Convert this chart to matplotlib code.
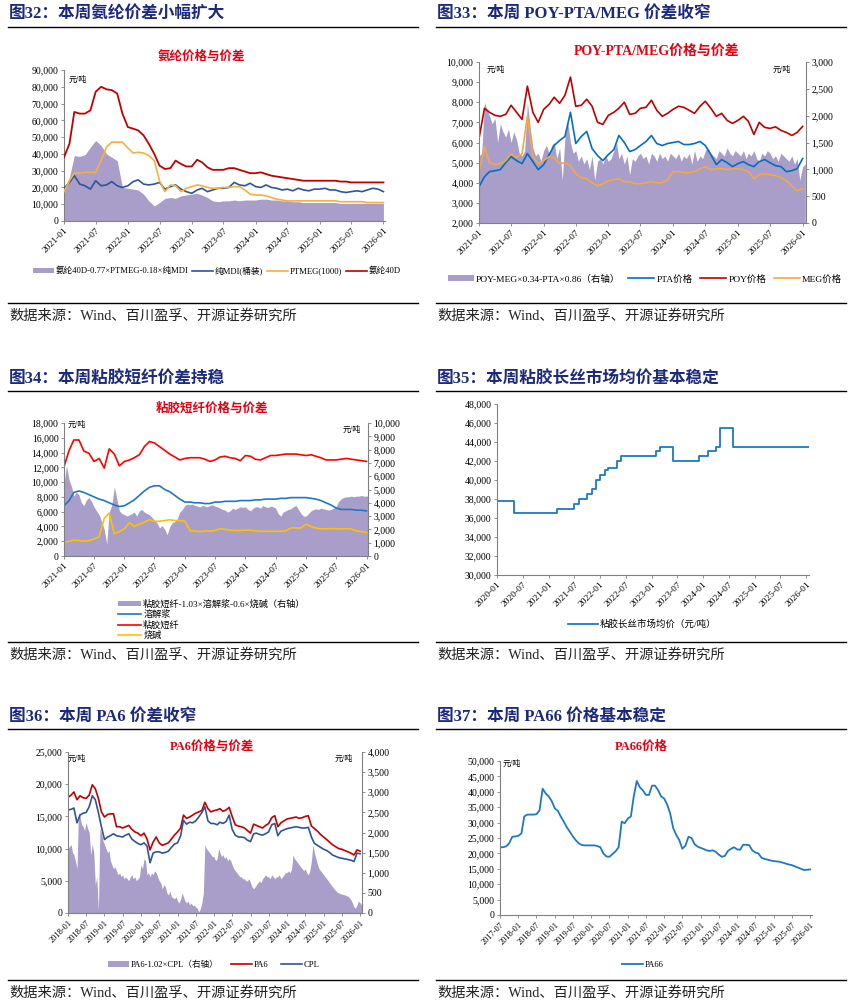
import matplotlib
matplotlib.use('Agg')
import matplotlib.pyplot as plt
from matplotlib.lines import Line2D
from matplotlib.patches import Patch
from matplotlib.ticker import FuncFormatter, MultipleLocator
import pandas as pd

# ---------------- data ----------------
# Fig 32, monthly 2021-01 .. 2026-01
spandex_spread = [
    19000, 26000, 39000, 38500, 39500, 44000, 48000, 45000, 40000, 38000, 36000, 20000,
    19500, 19000, 18500, 16000, 12000, 9000, 11000, 13500, 14000, 13500, 15000, 15500,
    16000, 16500, 15500, 14000, 12000, 11500, 12000, 12000, 12500, 12000, 12500, 12500,
    12500, 13000, 13000, 12500, 12500, 12000, 12000, 11500, 11500, 11000, 11000, 11000,
    11000, 11000, 11000, 11000, 10500, 10500, 10500, 10500, 10500, 10500, 10500, 10500,
    10500]
mdi = [
    19500, 23000, 27000, 22000, 21000, 19000, 24000, 21000, 21500, 23500, 21000, 20000,
    21000, 23500, 24500, 22000, 21500, 22000, 23000, 19000, 20500, 21500, 19000, 17500,
    16500, 18500, 19500, 17500, 18500, 19500, 19500, 20000, 23000, 21500, 21000, 22500,
    20500, 20000, 21500, 20000, 19500, 18500, 19000, 18000, 19500, 18500, 18000, 19000,
    19000, 19500, 18500, 18500, 17500, 17000, 17500, 18000, 17500, 18500, 19500, 19000,
    17500]
ptmeg = [
    17500, 24000, 28500, 28500, 29000, 29000, 29000, 36000, 44000, 47000, 47000, 47000,
    43500, 40500, 41000, 40500, 39000, 36000, 24000, 17500, 21500, 21000, 17500, 19500,
    20500, 21500, 21000, 20000, 19500, 19500, 20000, 20000, 20500, 20500, 18500, 16000,
    15500, 15500, 15000, 14000, 13000, 12500, 12000, 12000, 12000, 12000, 12000, 12000,
    12000, 12000, 12000, 12000, 11500, 11500, 11500, 11500, 11500, 11000, 11000, 11000,
    11000]
spandex = [
    38000, 46000, 65000, 64000, 64000, 66000, 77000, 80000, 78500, 78000, 76000, 64000,
    56000, 55000, 54000, 51000, 46000, 40000, 33000, 31000, 31500, 36000, 34000, 32500,
    32500, 36500, 35000, 32000, 30500, 30500, 30500, 31500, 31500, 30500, 29500, 28500,
    28500, 29000, 28000, 27000, 26500, 26000, 25500, 25000, 24500, 24000, 24000, 24000,
    24000, 24000, 24000, 24000, 23500, 23500, 23000, 23000, 23000, 23000, 23000, 23000,
    23000]

# Fig 33, monthly 2021-01 .. 2026-01 (spread semi-monthly)
poy = [
    6200, 7700, 7500, 7350, 7300, 7400, 7850, 7500, 7150, 8800, 7500, 7000,
    7650, 7900, 8250, 7950, 8350, 9250, 7800, 7850, 8150, 7800, 7000, 6900,
    7350, 7500, 7700, 8000, 7400, 7450, 7700, 7750, 8100, 7600, 7300, 7450,
    7650, 7800, 7750, 7600, 7450, 7800, 8050, 7700, 7300, 7450, 7100, 6950,
    7100, 7300, 7050, 6400, 7000, 6750, 6700, 6780, 6600, 6500, 6350, 6500,
    6800]
pta = [
    3800, 4300, 4550, 4600, 4650, 5000, 5300, 5100, 4950, 5450, 5050, 4650,
    4900, 5400, 5850, 6100, 6300, 7500, 5950, 6300, 6550, 5700, 5350, 5100,
    5400, 5650, 6350, 6000, 5550, 5650, 5850, 6050, 6350, 5950, 5850, 5950,
    6000, 6050, 5900, 5900, 5950, 6050, 5850, 5400, 4900, 5150, 5000, 4800,
    4950, 5050, 4900, 4800, 5050, 5150, 5000, 4850, 4800, 4550, 4600, 4700,
    5200]
meg = [
    4500, 5800, 5000, 4900, 4950, 5100, 5450, 5250, 5450, 7300, 5300, 4950,
    5100, 5300, 5250, 4950, 5000, 4850, 4450, 4250, 4200, 4000, 3850, 3950,
    4100, 4150, 4200, 4050, 4050, 3950, 3950, 4000, 4050, 4000, 4000, 4150,
    4550, 4550, 4500, 4500, 4550, 4700, 4800, 4650, 4700, 4700, 4650, 4700,
    4700, 4650, 4550, 4200, 4400, 4450, 4400, 4350, 4250, 4100, 3850, 3600,
    3700]
poy_spread = [
    1250, 1300, 2250, 2100, 2000, 1850, 1950, 1500, 1850, 1700, 1600, 1750,
    1500, 1700, 1550, 1300, 1250, 1350, 2250, 1800, 1400, 1250, 1300, 1150,
    1350, 1450, 1300, 1450, 1500, 1200, 1400, 800, 1600, 1900, 1500, 1300,
    1350, 1150, 1250, 1100, 1200, 1000, 1250, 800, 1150, 1200, 1100, 1250,
    1150, 1200, 1350, 1500, 1200, 1300, 1100, 1250, 900, 1200, 1150, 1250,
    1300, 1200, 1250, 1100, 1300, 1250, 1150, 1300, 1200, 1250, 1150, 1300,
    1250, 1200, 1300, 1150, 1250, 1200, 1300, 1100, 1350, 1150, 1250, 1200,
    1350, 1400, 1300, 1250, 1200, 1350, 1300, 1250, 1400, 1300, 1250, 1350,
    1300, 1250, 1350, 1200, 1300, 1250, 1350, 1200, 1150, 1300, 1250, 1350,
    1300, 1200, 1250, 1150, 1300, 1250, 1200, 1150, 1250, 1100, 1200, 800,
    1050, 1100]

# Fig 34, monthly 2021-01 .. 2026-01 (spread semi-monthly)
vsf = [
    12100, 14300, 15700, 15700, 14200, 13900, 12800, 13200, 11900, 14500, 13800, 12200,
    12800, 13000, 13300, 13700, 14800, 15500, 15300, 14800, 14300, 13800, 13400, 13000,
    13200, 13300, 13300, 13300, 13100, 12800, 13000, 13400, 13500, 13300, 13200, 12900,
    13600, 13500, 13100, 13000, 13300, 13600, 13600, 13700, 13800, 13800, 13800, 13700,
    13600, 13700, 13500, 13300, 13000, 13000, 13000, 13100, 13200, 13100, 13000, 12900,
    12800]
pulp = [
    6800, 7500, 8600, 8800, 8600, 8300, 8000, 7700, 7500, 7200, 6900, 6700,
    6800, 7200, 7600, 8200, 8800, 9300, 9500, 9500, 9000, 8700, 8200, 7700,
    7300, 7300, 7200, 7200, 7100, 7100, 7300, 7300, 7400, 7400, 7400, 7500,
    7500, 7500, 7600, 7600, 7700, 7700, 7700, 7800, 7800, 7900, 7900, 7900,
    7900, 7800, 7700, 7500, 7200, 6900, 6500, 6300, 6300, 6300, 6200, 6200,
    6100]
caustic = [
    1850, 2000, 2150, 2100, 2000, 2100, 2300, 2600, 5100, 5800, 3000, 3300,
    3700, 4500, 4000, 4300, 4600, 4900, 4700, 4700, 4800, 4900, 4800, 4800,
    4700, 3400, 3400, 3300, 3400, 3350, 3450, 3700, 3600, 3500, 3450, 3450,
    3500, 3500, 3400, 3350, 3350, 3350, 3350, 3350, 3400, 3800, 3800, 3800,
    4300, 4000, 3800, 3650, 3700, 3700, 3700, 3650, 3700, 3650, 3400, 3300,
    3200]
vsf_spread = [
    5400, 6800, 5700, 5200, 4500, 4800, 4600, 4000, 3800, 4200, 4400, 4100,
    3700, 3400, 3100, 2600, 2000, 900, 3300, 3800, 5200, 4300, 3400, 3200,
    3100, 3000, 3100, 3200, 3300, 3000, 3400, 3500, 3300, 3200, 3100, 2900,
    2700, 2500, 2100, 2300, 2000, 1600, 2200, 2500, 2600, 2800, 3300, 3500,
    3800, 3900, 3850, 3900, 3800, 3750, 3700, 3800, 3750, 3700, 3800, 3850,
    3750, 3700, 3600, 3500, 3450, 3300, 3400, 3600, 3500, 3600, 3700, 3650,
    3700, 3500, 3400, 3600, 3700, 3700, 3600, 3800, 3700, 3650, 3750, 3700,
    3600, 3200, 3000, 3300, 3400, 3500, 3550, 3700, 3800, 3500, 3200, 3000,
    3000, 3200, 3400, 3500, 3550, 3500, 3600, 3550, 3500, 3450, 3500, 3600,
    3700, 4100, 4300, 4400, 4450, 4450, 4500, 4450, 4500, 4500, 4550, 4500,
    4500, 4550]

# Fig 35, monthly 2020-01 .. 2026-02
filament = [
    37800, 37800, 37800, 37800, 36500, 36500, 36500, 36500, 36500, 36500, 36500, 36500,
    36500, 36500, 37000, 37000, 37000, 37000, 37500, 38000, 38000, 38500, 39000, 40000,
    40500, 41000, 41300, 41300, 42000, 42500, 42500, 42500, 42500, 42500, 42500, 42500,
    42500, 43000, 43500, 43500, 43500, 42000, 42000, 42000, 42000, 42000, 42000, 42500,
    42500, 43000, 43000, 43500, 45500, 45500, 45500, 43500, 43500, 43500, 43500, 43500,
    43500, 43500, 43500, 43500, 43500, 43500, 43500, 43500, 43500, 43500, 43500, 43500,
    43500, 43500]

# Fig 36, monthly 2018-01 .. 2026-01 (spread semi-monthly)
pa6 = [
    18000, 18300, 18800, 17600, 18200, 17900, 17800, 18300, 19900, 19300, 17800, 15700,
    14900, 15300, 15400, 15400, 13400, 13400, 13200, 13400, 13600, 13000, 12600, 12400,
    12000, 12400, 11500, 9800, 11000, 11800, 10900, 10500, 10700, 10900, 11500, 12100,
    12600, 13200, 15200, 14700, 14900, 15200, 15500, 15700, 15900, 17200, 16200, 15700,
    15900, 16000, 16200, 15800, 16000, 16400, 15000, 13700, 13500, 13400, 13200, 12800,
    12400, 13800, 13600, 13400, 13200, 13600, 13900, 14800, 15100, 13400, 14000, 14300,
    14600, 14700, 14800, 14900, 14700, 14800, 15000, 15100, 13500, 13100, 12700, 12200,
    11800, 11400, 11000, 10600, 10300, 10000, 9900, 9700, 9500, 9300, 9000, 9800,
    9600]
cpl = [
    16000, 16100, 16300, 14000, 15200, 15500, 15600, 16500, 18200, 17600, 15600, 13400,
    11400, 11800, 12000, 12300, 12000, 11900, 11800, 12100, 12300, 11500, 11100, 10800,
    10600, 10900, 10400, 7800, 9300, 9500, 9500, 9300, 9400, 9600, 10200, 10700,
    10900, 12000, 14400, 13800, 14100, 14000, 14300, 14900, 15600, 16500, 14300, 13900,
    13900, 13700, 14100, 13900, 14200, 15200, 13000, 12100, 11800, 11800, 11700, 11300,
    11100, 12300, 12400, 12200, 12100, 12300, 12600, 13700, 13900, 12000, 12700, 12900,
    13100, 13200, 13300, 13400, 13300, 13200, 13200, 13300, 11800, 10800, 10500, 10200,
    9900, 9700, 9400, 9000, 8800, 8600, 8500, 8400, 8300, 8200, 8000, 9300,
    9200]
pa6_spread = [
    1600, 1650, 1700, 1500, 1450, 1300, 1100, 2500, 2400, 2200, 2150, 2050,
    2250, 2100, 2000, 1450, 1700, 1500, 700, 900, 50, 2100, 2000, 1800,
    1700, 1600, 1500, 1550, 1300, 1200, 1100, 1150, 1050, 950, 1000, 900,
    950, 850, 900, 850, 800, 900, 950, 850, 900, 800, 850, 900,
    1200, 1100, 1350, 1300, 950, 1000, 900, 1000, 950, 1050, 1000, 900,
    800, 750, 600, 700, 650, 500, 450, 550, 400, 380, 350, 400,
    300, 250, 350, 500, 400, 300, 250, 300, 200, 250, 180, 200,
    150, 120, 30, 100, 250, 500, 1700, 1600, 1550, 1500, 1450, 1400,
    1400, 1300, 1350, 1600, 1500, 1400, 1450, 1350, 1400, 1300, 1350, 1300,
    1200, 1100, 1050, 1000, 950, 900, 900, 850, 850, 800, 800, 850,
    750, 650, 600, 650, 700, 750, 800, 750, 850, 900, 950, 900,
    900, 850, 950, 900, 850, 900, 900, 950, 850, 900, 950, 1000,
    1000, 1050, 1000, 1100, 1450, 1350, 1300, 1250, 1200, 1150, 1100, 1050,
    1100, 1000, 950, 1050, 1300, 1700, 1500, 1350, 1200, 1100, 1050, 1000,
    950, 900, 850, 800, 750, 700, 650, 600, 560, 520, 500, 480,
    470, 460, 450, 430, 420, 380, 330, 250, 150, 120, 200, 300,
    250, 200]

# Fig 37, monthly 2017-07 .. 2026-01
pa66 = [
    22000, 22000, 22300, 23300, 25400, 25500,
    25700, 26500, 32000, 32600, 32600, 32600, 32700, 34000, 41000, 39500, 38500, 37000,
    34600, 33800, 32000, 30300, 28500, 27000, 25500, 24200, 23200, 22700, 22600, 22600,
    22600, 22600, 22400, 22000, 20000, 19000, 18900, 19800, 20700, 22000, 30300, 29800,
    31300, 32000, 38400, 43500, 41500, 40500, 39000, 39000, 42000, 42000, 40500, 38500,
    37800, 35700, 33000, 28200, 26000, 24300, 21500, 22500, 25400, 25000, 23000, 22200,
    21800, 21400, 21000, 20800, 21000, 20500, 19600, 18900, 19200, 20800, 21500, 22000,
    21300, 21200, 22800, 22800, 22700, 21000, 20300, 20000, 18600, 18200, 18000, 17700,
    17500, 17400, 17300, 17000, 16700, 16400, 16200, 15800, 15400, 15000, 14600, 14700,
    14800]

# ---------------- styling ----------------
plt.rcParams['font.family'] = ['Liberation Serif', 'Noto Sans CJK SC', 'DejaVu Sans']
plt.rcParams['axes.unicode_minus'] = False

W, H = 852, 1008
NAVY = '#1c2a7c'
TITLE_RED = '#e60012'
PURPLE = '#a99dc9'
SPINE = '#808080'
SOURCE = '数据来源：Wind、百川盈孚、开源证券研究所'

fig = plt.figure(figsize=(W / 100, H / 100), dpi=100)
fig.patch.set_facecolor('white')


def fx(x):
    return x / W


def fy(y):
    return 1 - y / H


def monthly(start, n):
    return pd.date_range(start, periods=n, freq='MS')


def semi_monthly(start, n):
    months = pd.date_range(start, periods=(n + 1) // 2, freq='MS')
    days = [d + pd.Timedelta(days=15 * k) for d in months for k in (0, 1)]
    return pd.DatetimeIndex(days[:n])


def frame(x0, x1, y_head, y_rule, y_rule2, y_src, title):
    fig.text(fx(x0 + 1), fy(y_head), title, fontsize=12, fontweight='bold',
             color=NAVY, ha='left', va='center')
    for y in (y_rule, y_rule2):
        fig.add_artist(Line2D([fx(x0), fx(x1)], [fy(y), fy(y)], color='black', lw=1.0))
    fig.text(fx(x0 + 1), fy(y_src), SOURCE, fontsize=10.3, color='#222222',
             ha='left', va='center')


def chart_title(x, y, text, size=9):
    fig.text(fx(x), fy(y), text, fontsize=size, fontweight='bold', color=TITLE_RED,
             ha='center', va='center')


def unit(x, y, text='元/吨'):
    fig.text(fx(x), fy(y), text, fontsize=5.8, ha='left', va='center')


thousands = FuncFormatter(lambda v, p: f'{v:,.0f}')


def make_axes(x0, y0, x1, y1, size=7):
    ax = fig.add_axes([fx(x0), fy(y1), (x1 - x0) / W, (y1 - y0) / H])
    ax.spines['top'].set_visible(False)
    ax.spines['right'].set_visible(False)
    for s in ('left', 'bottom'):
        ax.spines[s].set_color(SPINE)
        ax.spines[s].set_linewidth(0.8)
    ax.tick_params(labelsize=size, length=2.5, width=0.6, color=SPINE, pad=1.5)
    ax.yaxis.set_major_formatter(thousands)
    return ax


def right_axis(ax, size=7):
    ax2 = ax.twinx()
    for s in ('top', 'left', 'bottom'):
        ax2.spines[s].set_visible(False)
    ax2.spines['right'].set_color(SPINE)
    ax2.spines['right'].set_linewidth(0.8)
    ax2.tick_params(labelsize=size, length=2.5, width=0.6, color=SPINE, pad=1.5)
    ax2.yaxis.set_major_formatter(thousands)
    ax.set_zorder(ax2.get_zorder() + 1)
    ax.patch.set_visible(False)
    return ax2


def date_axis(ax, start, end, tick_end, size=6.8):
    ax.set_xlim(pd.Timestamp(start), pd.Timestamp(end))
    ticks = pd.date_range(start, tick_end, freq='6MS')
    ax.set_xticks(ticks)
    ax.set_xticklabels([t.strftime('%Y-%m') for t in ticks], rotation=45,
                       ha='right', rotation_mode='anchor', fontsize=size)


def legend(handles, x, y, ncol, **kw):
    opts = dict(loc='center', bbox_to_anchor=(fx(x), fy(y)), ncol=ncol, frameon=False,
                fontsize=6.2, handlelength=2.4, handletextpad=0.2, columnspacing=0.5,
                borderpad=0, handleheight=0.6)
    opts.update(kw)
    fig.legend(handles=handles, **opts)


# ---------------- Fig 32 ----------------
frame(8, 418, 14, 27, 303, 316, '图32：本周氨纶价差小幅扩大')
chart_title(201, 57, '氨纶价格与价差')
ax = make_axes(64, 70, 385, 221)
d = monthly('2021-01-01', len(spandex))
ax.fill_between(d, 0, spandex_spread, color=PURPLE, lw=0, zorder=1)
ax.plot(d, mdi, color='#2f5597', lw=1.2, zorder=3)
ax.plot(d, ptmeg, color='#f4b041', lw=1.2, zorder=3)
ax.plot(d, spandex, color='#c00000', lw=1.3, zorder=4)
ax.set_ylim(0, 90000)
ax.yaxis.set_major_locator(MultipleLocator(10000))
date_axis(ax, '2021-01-01', '2026-01-10', '2026-01-01')
unit(69, 80)
legend([Patch(facecolor=PURPLE, label='氨纶40D-0.77×PTMEG-0.18×纯MDI'),
        Line2D([], [], color='#2f5597', lw=1.2, label='纯MDI(桶装)'),
        Line2D([], [], color='#f4b041', lw=1.2, label='PTMEG(1000)'),
        Line2D([], [], color='#c00000', lw=1.2, label='氨纶40D')], 217, 271, 4)

# ---------------- Fig 33 ----------------
frame(436, 846, 14, 27, 303, 316, '图33：本周 POY-PTA/MEG 价差收窄')
chart_title(657, 51, 'POY-PTA/MEG价格与价差', size=10)
ax = make_axes(479, 62, 806, 223)
ax2 = right_axis(ax)
d = monthly('2021-01-01', len(poy))
ax2.fill_between(semi_monthly('2021-01-01', len(poy_spread)), 0, poy_spread,
                 color=PURPLE, lw=0)
ax.plot(d, pta, color='#0070c0', lw=1.2)
ax.plot(d, poy, color='#c00000', lw=1.2)
ax.plot(d, meg, color='#f5a742', lw=1.2)
ax.set_ylim(2000, 10000)
ax.yaxis.set_major_locator(MultipleLocator(1000))
ax2.set_ylim(0, 3000)
ax2.yaxis.set_major_locator(MultipleLocator(500))
date_axis(ax, '2021-01-01', '2026-01-20', '2026-01-01')
unit(487, 70)
unit(773, 70)
legend([Patch(facecolor=PURPLE, label='POY-MEG×0.34-PTA×0.86（右轴）'),
        Line2D([], [], color='#0070c0', lw=1.2, label='PTA价格'),
        Line2D([], [], color='#c00000', lw=1.2, label='POY价格'),
        Line2D([], [], color='#f5a742', lw=1.2, label='MEG价格')], 645, 279, 4,
       fontsize=6.8, handlelength=2.8, columnspacing=0.8)

# ---------------- Fig 34 ----------------
frame(8, 418, 380, 391, 642, 655, '图34：本周粘胶短纤价差持稳')
chart_title(212, 409, '粘胶短纤价格与价差')
ax = make_axes(64, 423, 368, 556)
ax2 = right_axis(ax)
d = monthly('2021-01-01', len(vsf))
ax2.fill_between(semi_monthly('2021-01-01', len(vsf_spread)), 0, vsf_spread,
                 color=PURPLE, lw=0)
ax.plot(d, pulp, color='#1f78c1', lw=1.2)
ax.plot(d, vsf, color='#ff0000', lw=1.2)
ax.plot(d, caustic, color='#ffc000', lw=1.2)
ax.set_ylim(0, 18000)
ax.yaxis.set_major_locator(MultipleLocator(2000))
ax2.set_ylim(0, 10000)
ax2.yaxis.set_major_locator(MultipleLocator(1000))
date_axis(ax, '2021-01-01', '2026-01-10', '2026-01-01')
unit(68, 425)
unit(343, 430)
legend([Patch(facecolor=PURPLE, label='粘胶短纤-1.03×溶解浆-0.6×烧碱（右轴）'),
        Line2D([], [], color='#1f78c1', lw=1.2, label='溶解浆'),
        Line2D([], [], color='#ff0000', lw=1.2, label='粘胶短纤'),
        Line2D([], [], color='#ffc000', lw=1.2, label='烧碱')], 113, 595, 1,
       loc='upper left', labelspacing=0.15, handlelength=2.6, fontsize=6.6)

# ---------------- Fig 35 ----------------
frame(436, 846, 380, 391, 642, 655, '图35：本周粘胶长丝市场均价基本稳定')
ax = make_axes(497, 404, 809, 575)
ax.step(monthly('2020-01-01', len(filament)), filament, where='post',
        color='#1f78c1', lw=1.3)
ax.set_ylim(30000, 48000)
ax.yaxis.set_major_locator(MultipleLocator(2000))
date_axis(ax, '2020-01-01', '2026-01-20', '2026-01-01')
legend([Line2D([], [], color='#1f78c1', lw=1.3, label='粘胶长丝市场均价（元/吨）')],
       642, 624, 1, fontsize=6.8, handlelength=3.2)

# ---------------- Fig 36 ----------------
frame(8, 418, 717, 729, 980, 993, '图36：本周 PA6 价差收窄')
chart_title(212, 747, 'PA6价格与价差')
ax = make_axes(68, 752, 362, 913)
ax2 = right_axis(ax)
d = monthly('2018-01-01', len(pa6))
ax2.fill_between(semi_monthly('2018-01-01', len(pa6_spread)), 0, pa6_spread,
                 color=PURPLE, lw=0)
ax.plot(d, pa6, color='#c00000', lw=1.2)
ax.plot(d, cpl, color='#2f5597', lw=1.2)
ax.set_ylim(0, 25000)
ax.yaxis.set_major_locator(MultipleLocator(5000))
ax2.set_ylim(0, 4000)
ax2.yaxis.set_major_locator(MultipleLocator(500))
date_axis(ax, '2018-01-01', '2026-01-20', '2026-01-01', size=6)
unit(68, 759)
unit(335, 759)
legend([Patch(facecolor=PURPLE, label='PA6-1.02×CPL（右轴）'),
        Line2D([], [], color='#c00000', lw=1.2, label='PA6'),
        Line2D([], [], color='#2f5597', lw=1.2, label='CPL')], 214, 965, 3,
       columnspacing=1.5)

# ---------------- Fig 37 ----------------
frame(436, 846, 717, 729, 980, 993, '图37：本周 PA66 价格基本稳定')
chart_title(641, 747, 'PA66价格')
ax = make_axes(500, 761, 812, 915)
ax.plot(monthly('2017-07-01', len(pa66)), pa66, color='#1f78c1', lw=1.3)
ax.set_ylim(0, 50000)
ax.yaxis.set_major_locator(MultipleLocator(5000))
date_axis(ax, '2017-07-01', '2026-01-20', '2026-01-01', size=6)
unit(503, 764)
legend([Line2D([], [], color='#1f78c1', lw=1.3, label='PA66')], 643, 965, 1)

fig.savefig('out.png', dpi=100, facecolor='white')
